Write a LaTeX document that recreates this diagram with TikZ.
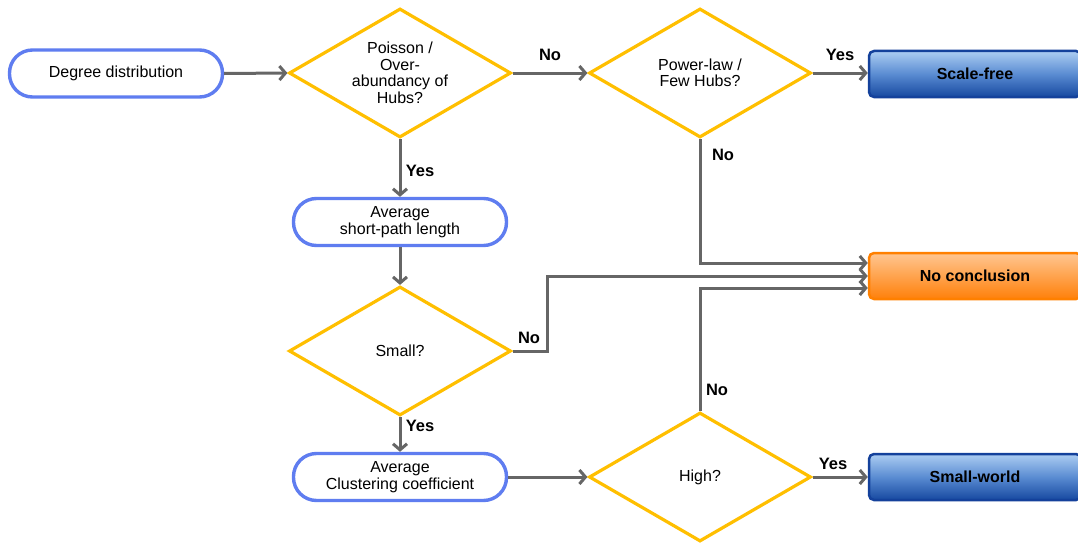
\documentclass[tikz,border=0pt]{standalone}
\usepackage{fontspec}
\setmainfont{Liberation Sans}
\usetikzlibrary{shapes.geometric,arrows.meta}
\definecolor{dyellow}{RGB}{255,191,0}
\definecolor{pblue}{RGB}{95,125,240}
\definecolor{cgray}{RGB}{102,102,102}
\definecolor{bluetop}{RGB}{172,205,242}
\definecolor{bluemid}{RGB}{90,140,210}
\definecolor{bluebot}{RGB}{22,72,160}
\definecolor{blueedge}{RGB}{20,65,155}
\definecolor{orangetop}{RGB}{255,198,145}
\definecolor{orangebot}{RGB}{255,128,10}
\definecolor{orangeedge}{RGB}{255,128,0}
\begin{document}
\begin{tikzpicture}[x=1pt,y=-1pt,
 every node/.style={font=\fontsize{16}{16.5}\selectfont},
 decision/.style={diamond, draw=dyellow, line width=3.2pt, minimum width=222pt, minimum height=129pt, inner sep=0pt, fill=white},
 dtext/.style={align=center, inner sep=0pt},
 proc/.style={rectangle, rounded corners=23pt, draw=pblue, line width=3.4pt, minimum width=213pt, minimum height=47pt, align=center, fill=white},
 result/.style={rectangle, rounded corners=5pt, line width=2.5pt, minimum width=212pt, minimum height=46pt, font=\fontsize{16}{16.5}\selectfont\bfseries},
 bluebox/.style={result, draw=blueedge, top color=bluetop, bottom color=bluebot, middle color=bluemid},
 orangebox/.style={result, draw=orangeedge, top color=orangetop, bottom color=orangebot},
 conn/.style={draw=cgray, line width=3pt, -{Straight Barb[length=6pt,width=14pt]}},
 lab/.style={font=\fontsize{16.5}{17}\selectfont\bfseries, inner sep=0pt}
]
\clip (0,0) rectangle (1078,543);
\fill[white] (0,0) rectangle (1078,543);

\node[proc] (dd) at (116,73.5) {Degree distribution};
\node[decision] (d1) at (400,73) {};
\node[dtext] (d1t) at (d1) {Poisson /\\Over-\\abundancy of\\Hubs?};
\node[decision] (d2) at (700,73) {};
\node[dtext] (d2t) at (d2) {Power-law /\\Few Hubs?};
\node[bluebox] (sf) at (975,74) {Scale-free};
\node[proc] (aspl) at (400,222) {Average\\short-path length};
\node[decision] (small) at (400,351) {};
\node[dtext] (smallt) at (small) {Small?};
\node[orangebox] (nc) at (975,276) {No conclusion};
\node[proc] (acc) at (400,477) {Average\\Clustering coefficient};
\node[decision] (high) at (700,477) {};
\node[dtext] (hight) at (high) {High?};
\node[bluebox] (sw) at (975,477) {Small-world};

\draw[conn] (dd.east) -- (d1.west);
\draw[conn] (d1.east) -- (d2.west);
\draw[conn] (d2.east) -- (sf.west |- d2.east);
\draw[conn] (d1.south) -- (aspl.north);
\draw[conn] (aspl.south) -- (small.north);
\draw[conn] (small.south) -- (acc.north);
\draw[conn] (acc.east) -- (high.west);
\draw[conn] (high.east) -- (sw.west);
\draw[conn] (d2.south) |- ([yshift=13pt]nc.west);
\draw[conn] (small.east) -- ++(35,0) |- (nc.west);
\draw[conn] (high.north) |- ([yshift=-12pt]nc.west);

\node[lab] (l1) at (550,55) {No};
\node[lab] (l2) at (840,55) {Yes};
\node[lab] (l3) at (420,171) {Yes};
\node[lab] (l4) at (723,155) {No};
\node[lab] (l5) at (529,338) {No};
\node[lab] (l6) at (420,426) {Yes};
\node[lab] (l7) at (717,390) {No};
\node[lab] (l8) at (833,464) {Yes};
\end{tikzpicture}
\end{document}
